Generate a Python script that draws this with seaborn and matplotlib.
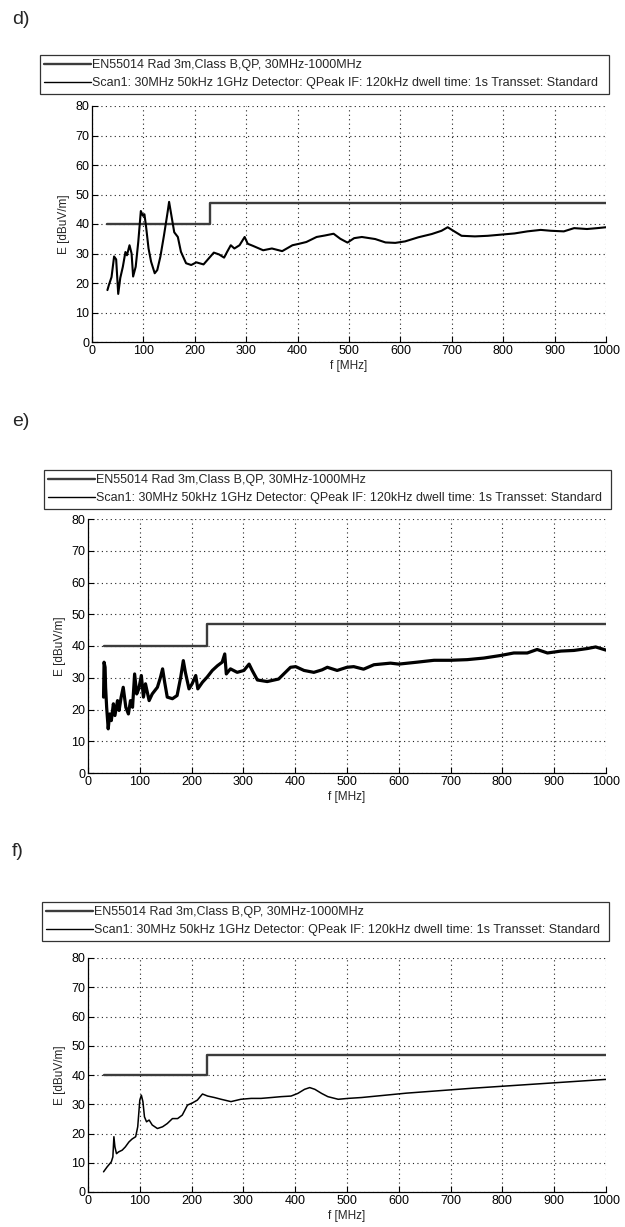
import numpy as np
import pandas as pd
import matplotlib
matplotlib.use("Agg")
import matplotlib.pyplot as plt
import seaborn as sns

# ---------------- data ----------------
limit_f = [30, 230, 230, 1000]
limit_v = [40, 40, 47, 47]

d_f = [30, 33, 38, 43, 47, 51, 55, 60, 65, 68, 73, 77, 80, 85, 90, 95, 99, 102, 105, 110,
       115, 122, 127, 133, 140, 147, 150, 153, 160, 167, 173, 183, 193, 203, 217, 227, 237,
       247, 257, 263, 270, 277, 287, 297, 303, 313, 333, 350, 370, 390, 403, 417, 437, 453,
       470, 483, 497, 510, 525, 551, 571, 590, 609, 635, 661, 680, 692, 703, 719, 745, 770,
       796, 822, 847, 873, 893, 918, 938, 963, 983, 1000]
d_v = [17.6, 19.4, 22.0, 29.0, 28.0, 16.3, 21.7, 25.5, 30.5, 29.4, 32.8, 30.0, 22.2, 25.5,
       33.9, 44.4, 42.8, 43.3, 39.4, 31.7, 27.2, 23.3, 24.4, 28.9, 36.1, 43.9, 47.5, 44.4,
       37.2, 35.6, 30.6, 26.7, 26.1, 27.0, 26.3, 28.3, 30.3, 29.7, 28.6, 30.6, 32.8, 31.7,
       32.8, 35.6, 33.3, 32.6, 31.1, 31.7, 30.8, 32.8, 33.3, 33.9, 35.6, 36.1, 36.7, 35.0,
       33.7, 35.2, 35.6, 34.9, 33.75, 33.6, 34.1, 35.5, 36.6, 37.7, 38.9, 37.7, 36.0, 35.8,
       36.0, 36.4, 36.8, 37.5, 38.0, 37.7, 37.5, 38.6, 38.3, 38.6, 38.9]

e_f = [30, 31, 33, 34, 36, 39, 42, 45, 49, 52, 57, 60, 64, 68, 73, 78, 82, 86, 90, 94, 98,
       103, 107, 111, 118, 124, 134, 140, 144, 148, 153, 163, 172, 179, 184, 188, 195, 201,
       208, 212, 221, 230, 240, 250, 259, 264, 267, 275, 288, 301, 311, 317, 327, 346, 368,
       391, 401, 417, 436, 452, 462, 481, 500, 513, 532, 552, 584, 600, 635, 668, 700, 732,
       764, 796, 822, 848, 867, 887, 913, 938, 964, 980, 1000]
e_v = [23.9, 34.9, 33.3, 27.0, 20.7, 13.9, 18.6, 16.5, 21.8, 18.1, 22.8, 19.7, 23.9, 27.0,
       20.7, 18.6, 22.8, 20.7, 31.2, 24.9, 26.5, 30.7, 23.9, 28.1, 22.8, 24.9, 27.0, 30.2,
       32.8, 28.6, 23.9, 23.4, 24.4, 30.2, 35.4, 31.7, 26.5, 28.1, 30.7, 26.5, 28.6, 30.2,
       32.3, 33.8, 34.9, 37.5, 31.2, 32.8, 31.7, 32.3, 34.3, 32.3, 29.3, 28.8, 29.6, 33.3,
       33.5, 32.3, 31.7, 32.5, 33.3, 32.3, 33.3, 33.5, 32.7, 34.1, 34.6, 34.3, 34.9, 35.5,
       35.5, 35.7, 36.2, 37.0, 37.8, 37.8, 38.9, 37.8, 38.4, 38.6, 39.2, 39.7, 38.7]

f_f = [30, 37, 45, 48, 50, 52, 55, 59, 66, 72, 79, 85, 92, 96, 100, 103, 106, 109, 113, 118,
       124, 134, 144, 153, 163, 173, 182, 192, 202, 211, 221, 231, 244, 257, 276, 295, 315,
       334, 354, 373, 392, 405, 418, 428, 438, 451, 463, 483, 502, 528, 615, 744, 872, 1000]
f_v = [6.9, 8.6, 10.3, 12.0, 18.9, 15.4, 13.1, 13.7, 14.3, 15.4, 17.1, 18.1, 18.9, 22.3,
       31.4, 33.1, 30.9, 25.7, 24.0, 24.6, 22.9, 21.7, 22.3, 23.4, 25.1, 25.1, 26.3, 29.7,
       30.5, 31.4, 33.5, 32.8, 32.3, 31.7, 30.9, 31.7, 32.0, 32.0, 32.3, 32.6, 32.8, 33.7,
       35.1, 35.7, 35.1, 33.7, 32.6, 31.7, 32.0, 32.3, 33.8, 35.5, 37.0, 38.5]

panel_labels = ["d)", "e)", "f)"]
limit_label = "EN55014 Rad 3m,Class B,QP, 30MHz-1000MHz"
scan_label = ("Scan1: 30MHz 50kHz 1GHz Detector: QPeak IF: 120kHz dwell time: 1s "
              "Transset: Standard")
x_ticks = [0, 100, 200, 300, 400, 500, 600, 700, 800, 900, 1000]
y_ticks = [0, 10, 20, 30, 40, 50, 60, 70, 80]
x_label = "f [MHz]"
y_label = "E [dBuV/m]"

# ---------------- style ----------------
sns.set_style("white")
plt.rcParams["font.family"] = ["Liberation Sans", "DejaVu Sans"]
plt.rcParams["font.size"] = 9

W, H = 625, 1227
fig = plt.figure(figsize=(W / 100, H / 100), dpi=100)

# pixel boxes: (left, top, right, bottom)
axes_px = [(92, 106, 606, 342), (88, 519, 606, 773), (88, 958, 606, 1192)]
legend_px = [(40, 52, 609, 96), (44, 467, 611, 511), (42, 899, 609, 943)]
label_px = [(12, 20), (12, 421), (12, 852)]
scan_data = [(d_f, d_v, 1.5), (e_f, e_v, 2.3), (f_f, f_v, 1.1)]


def fig_rect(l, t, r, b):
    return (l / W, 1 - b / H, (r - l) / W, (b - t) / H)


for i in range(3):
    ax = fig.add_axes(fig_rect(*axes_px[i]))
    lim_df = pd.DataFrame({"f": limit_f, "v": limit_v})
    fx, fv, lw = scan_data[i]
    scan_df = pd.DataFrame({"f": fx, "v": fv})
    sns.lineplot(data=lim_df, x="f", y="v", ax=ax, sort=False, estimator=None,
                 color="#3c3c3c", linewidth=1.7, label=limit_label)
    sns.lineplot(data=scan_df, x="f", y="v", ax=ax, sort=False, estimator=None,
                 color="black", linewidth=lw, label=scan_label)
    ax.set_xlim(0, 1000)
    ax.set_ylim(0, 80)
    ax.set_xticks(x_ticks)
    ax.set_yticks(y_ticks)
    ax.set_xlabel(x_label, fontsize=8.5, labelpad=2)
    ax.set_ylabel(y_label, fontsize=8.5, labelpad=4)
    ax.grid(True, linestyle=(0, (1, 3)), color="#222222", linewidth=0.8)
    for s in ["top", "right"]:
        ax.spines[s].set_visible(False)
    for s in ["left", "bottom"]:
        ax.spines[s].set_color("black")
        ax.spines[s].set_linewidth(0.9)
    ax.tick_params(direction="in", length=4, width=0.8, labelsize=9, pad=2,
                   bottom=True, left=True, colors="black")
    handles, labels = ax.get_legend_handles_labels()
    lb = legend_px[i]
    bx = fig_rect(*lb)
    leg = ax.legend(handles, [limit_label, scan_label], loc="center",
                    bbox_to_anchor=bx, bbox_transform=fig.transFigure, mode="expand",
                    fontsize=9, frameon=True, fancybox=False, handlelength=3.7,
                    handletextpad=0.1, labelspacing=0.5, borderpad=0.35,
                    borderaxespad=0)
    leg.get_frame().set_edgecolor("black")
    leg.get_frame().set_linewidth(0.9)
    leg.get_lines()[1].set_linewidth(1.0)
    lx, ly = label_px[i]
    fig.text(lx / W, 1 - ly / H, panel_labels[i], fontsize=14, va="center", ha="left")

fig.savefig("out.png", dpi=100, facecolor="white")
